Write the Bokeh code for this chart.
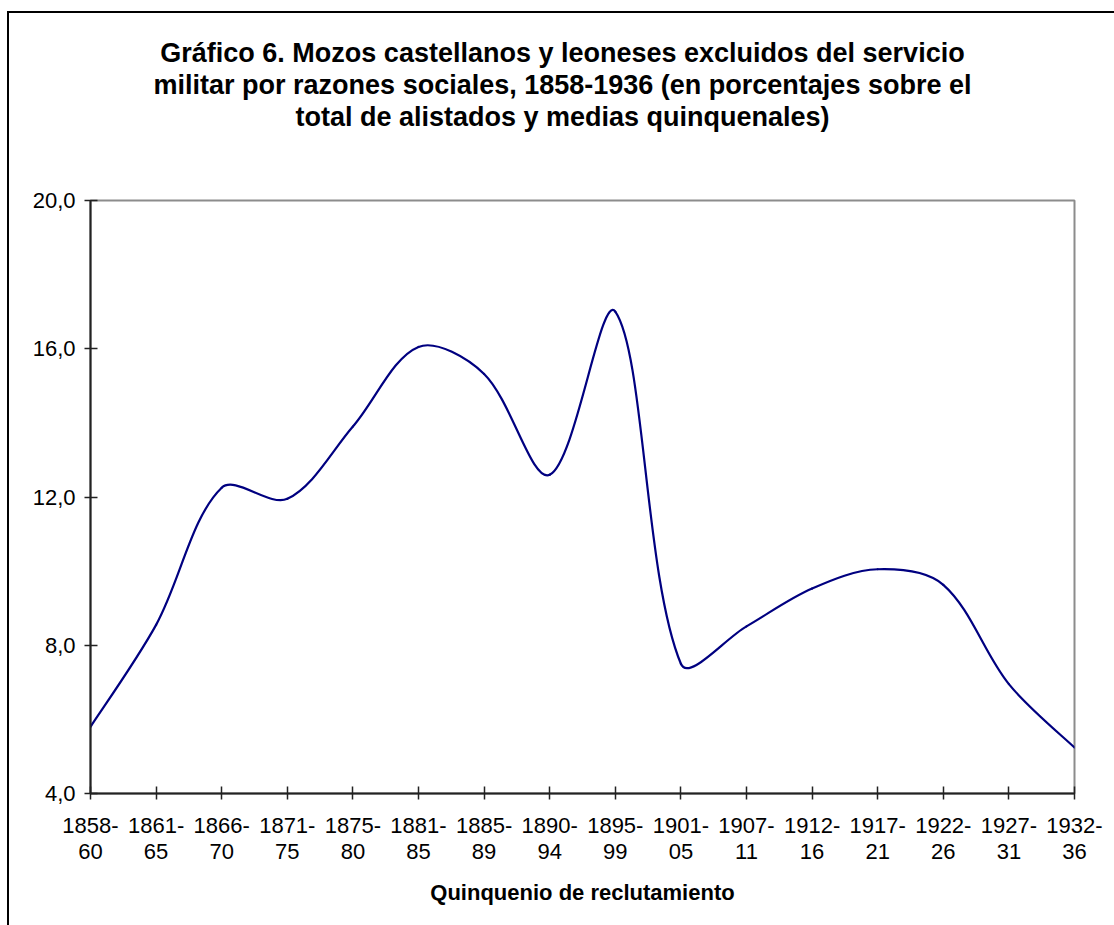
import math
import numpy as np
from bokeh.plotting import figure
from bokeh.models import (LinearAxis, FixedTicker, Range1d, Title, ColumnDataSource)
from bokeh.embed import file_html
from bokeh.resources import INLINE

# ---------------- data ----------------
categories = ["1858-60", "1861-65", "1866-70", "1871-75", "1875-80", "1881-85",
              "1885-89", "1890-94", "1895-99", "1901-05", "1907-11", "1912-16",
              "1917-21", "1922-26", "1927-31", "1932-36"]
values = [5.8, 8.55, 12.25, 11.95, 13.9, 16.05, 15.32, 12.6, 17.0, 7.5,
          8.51, 9.53, 10.05, 9.63, 6.95, 5.24]
y_ticks = [4, 8, 12, 16, 20]
y_tick_labels = ["4,0", "8,0", "12,0", "16,0", "20,0"]
title_lines = ["Gráfico 6. Mozos castellanos y leoneses excluidos del servicio",
               "militar por razones sociales, 1858-1936 (en porcentajes sobre el",
               "total de alistados y medias quinquenales)"]
x_title = "Quinquenio de reclutamiento"

# ---------------- layout ----------------
W, H = 1114, 925
LEFT, RIGHT, TOP, BOTTOM = 90, 40, 200, 132
FONT = "Liberation Sans"
Y0, Y1 = 4, 20
TITLE_PX = 27
TITLE_CX = 562   # horizontal centre of the title block (px)

# advance widths of Liberation Sans Bold (per 1000 em), used to centre the title
BOLD_W = {" ": 278, "(": 333, ")": 333, ",": 278, "-": 333, ".": 278,
          "G": 778, "M": 833, "a": 556, "á": 556, "b": 611, "c": 556, "d": 611,
          "e": 556, "f": 333, "g": 611, "h": 611, "i": 278, "j": 278, "k": 556,
          "l": 278, "m": 889, "n": 611, "o": 611, "p": 611, "q": 611, "r": 389,
          "s": 556, "t": 333, "u": 611, "v": 556, "x": 556, "y": 556, "z": 500}


def text_width(s, size):
    return sum(BOLD_W.get(ch, 556) for ch in s) * size / 1000.0


n = len(categories)
idx = list(range(n))
p = figure(width=W, height=H, output_backend="svg", toolbar_location=None,
           x_range=Range1d(0, n - 1), y_range=Range1d(Y0, Y1),
           x_axis_type=None, y_axis_type=None,
           min_border_left=LEFT, min_border_right=RIGHT,
           min_border_top=TOP, min_border_bottom=BOTTOM)
p.background_fill_color = "white"
p.border_fill_alpha = 0
p.outline_line_color = "#8c8c8c"
p.outline_line_width = 2
# chart-area border (top and left edges visible in the window)
p.styles = {
    "background-color": "white",
    "background-image": "linear-gradient(black, black), linear-gradient(black, black)",
    "background-size": "2px 100%, 100% 2px",
    "background-position": "7px 11px, 7px 11px",
    "background-repeat": "no-repeat, no-repeat",
}

# y axis
yax = LinearAxis(ticker=FixedTicker(ticks=y_ticks),
                 major_label_overrides={t: l for t, l in zip(y_ticks, y_tick_labels)})
yax.axis_line_color = "#222222"
yax.axis_line_width = 2
yax.major_tick_in = 7
yax.major_tick_out = 6
yax.major_tick_line_color = "#222222"
yax.major_tick_line_width = 1.5
yax.minor_tick_line_color = None
yax.major_label_standoff = 9
yax.major_label_text_font = FONT
yax.major_label_text_font_size = "22px"
yax.major_label_text_color = "black"
p.add_layout(yax, "left")

# x axes (two lines of category labels)
top_lbl = {i: c.split("-")[0] + "-" for i, c in enumerate(categories)}
bot_lbl = {i: c.split("-")[1] for i, c in enumerate(categories)}

xax1 = LinearAxis(ticker=FixedTicker(ticks=idx), major_label_overrides=top_lbl)
xax1.axis_line_color = "#222222"
xax1.axis_line_width = 2
xax1.major_tick_in = 7
xax1.major_tick_out = 6
xax1.major_tick_line_color = "#222222"
xax1.major_tick_line_width = 1.5
xax1.minor_tick_line_color = None
xax1.major_label_standoff = 18
xax1.major_label_text_font = FONT
xax1.major_label_text_font_size = "22px"
xax1.major_label_text_color = "black"
p.add_layout(xax1, "below")

xax2 = LinearAxis(ticker=FixedTicker(ticks=idx), major_label_overrides=bot_lbl)
xax2.axis_line_color = None
xax2.major_tick_line_color = None
xax2.minor_tick_line_color = None
xax2.major_tick_in = 0
xax2.major_tick_out = 0
xax2.major_label_standoff = 8
xax2.major_label_text_font = FONT
xax2.major_label_text_font_size = "22px"
xax2.major_label_text_color = "black"
xax2.axis_label = x_title
xax2.axis_label_text_font = FONT
xax2.axis_label_text_font_size = "22px"
xax2.axis_label_text_font_style = "bold"
xax2.axis_label_text_color = "black"
xax2.axis_label_standoff = 18
p.add_layout(xax2, "below")

# title: spacer next to the frame, then the three lines (closest first)
p.add_layout(Title(text=" ", text_font_size="10px", standoff=56), "above")
for line in reversed(title_lines):
    off = TITLE_CX - text_width(line, TITLE_PX) / 2.0 - LEFT
    p.add_layout(Title(text=line, align="left", offset=off, text_font=FONT,
                       text_font_size=f"{TITLE_PX}px", text_font_style="bold",
                       text_color="black", standoff=0), "above")

# smoothed line (Excel-like bezier through the points)
SX = (W - LEFT - RIGHT) / (n - 1)
SY = (H - TOP - BOTTOM) / float(Y1 - Y0)
xs = np.arange(n, dtype=float)
ys = np.asarray(values, dtype=float)
PX, PY = xs * SX, ys * SY
out_c = np.zeros((n, 2))
in_c = np.zeros((n, 2))
for i in range(n):
    a, b = max(i - 1, 0), min(i + 1, n - 1)
    tx, ty = PX[b] - PX[a], PY[b] - PY[a]
    d_in = math.hypot(PX[i] - PX[a], PY[i] - PY[a])
    d_out = math.hypot(PX[b] - PX[i], PY[b] - PY[i])
    if i == 0 or i == n - 1:
        f_out = f_in = 1.0 / 6.0
    else:
        f_out = (1.0 / 3.0) * d_out / (d_in + d_out)
        f_in = (1.0 / 3.0) * d_in / (d_in + d_out)
    out_c[i] = ((PX[i] + tx * f_out) / SX, (PY[i] + ty * f_out) / SY)
    in_c[i] = ((PX[i] - tx * f_in) / SX, (PY[i] - ty * f_in) / SY)

src = ColumnDataSource(dict(
    x0=xs[:-1], y0=ys[:-1], x1=xs[1:], y1=ys[1:],
    cx0=out_c[:-1, 0], cy0=out_c[:-1, 1], cx1=in_c[1:, 0], cy1=in_c[1:, 1]))
p.bezier(x0="x0", y0="y0", x1="x1", y1="y1", cx0="cx0", cy0="cy0", cx1="cx1", cy1="cy1",
         source=src, line_color="#000080", line_width=2.2, line_cap="round")

open("out.html", "w").write(file_html(p, INLINE))
